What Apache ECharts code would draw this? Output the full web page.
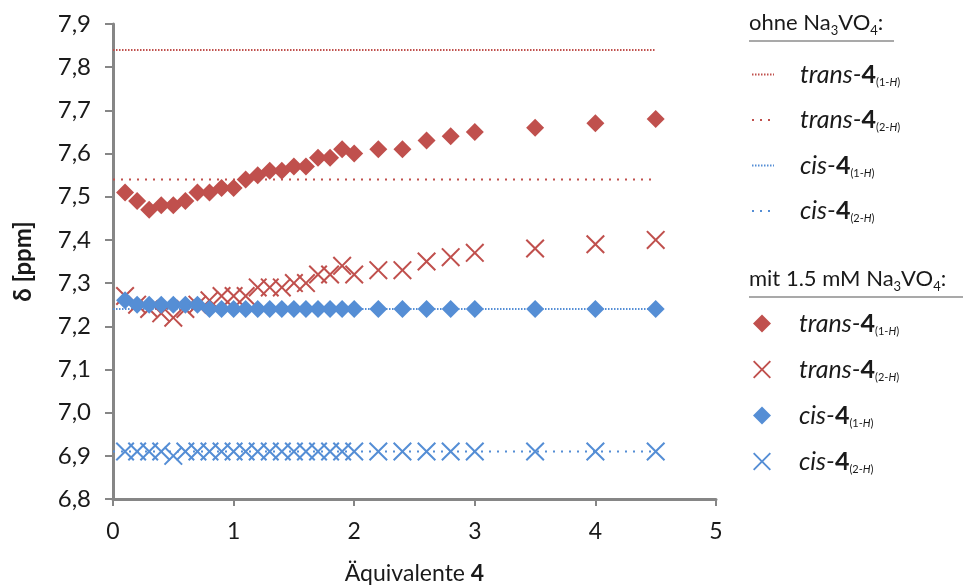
<!DOCTYPE html>
<html>
<head>
<meta charset="utf-8">
<script src="https://cdn.jsdelivr.net/npm/echarts@6/dist/echarts.min.js"></script>
<style>
html,body{margin:0;padding:0;background:#fff;}
#chart{width:967px;height:585px;}
</style>
</head>
<body>
<div id="chart"></div>
<script>
// ---- data ----
const xMit = [0.1,0.2,0.3,0.4,0.5,0.6,0.7,0.8,0.9,1.0,1.1,1.2,1.3,1.4,1.5,1.6,1.7,1.8,1.9,2.0,2.2,2.4,2.6,2.8,3.0,3.5,4.0,4.5];
const trans1H_mit = [7.51,7.49,7.47,7.48,7.48,7.49,7.51,7.51,7.52,7.52,7.54,7.55,7.56,7.56,7.57,7.57,7.59,7.59,7.61,7.60,7.61,7.61,7.63,7.64,7.65,7.66,7.67,7.68];
const trans2H_mit = [7.27,7.25,7.24,7.23,7.22,7.24,7.25,7.26,7.27,7.27,7.27,7.29,7.29,7.29,7.30,7.30,7.32,7.32,7.34,7.32,7.33,7.33,7.35,7.36,7.37,7.38,7.39,7.40];
const cis1H_mit = [7.26,7.25,7.25,7.25,7.25,7.25,7.25,7.24,7.24,7.24,7.24,7.24,7.24,7.24,7.24,7.24,7.24,7.24,7.24,7.24,7.24,7.24,7.24,7.24,7.24,7.24,7.24,7.24];
const cis2H_mit = [6.91,6.91,6.91,6.91,6.90,6.91,6.91,6.91,6.91,6.91,6.91,6.91,6.91,6.91,6.91,6.91,6.91,6.91,6.91,6.91,6.91,6.91,6.91,6.91,6.91,6.91,6.91,6.91];
const xOhne = [0, 4.5];
const trans1H_ohne = 7.84;
const trans2H_ohne = 7.54;
const cis1H_ohne = 7.24;
const cis2H_ohne = 6.91;
const xTicks = [0,1,2,3,4,5];
const yMin = 6.8, yMax = 7.9;

const RED = '#C0504D', BLUE = '#558ED5';
const FONT = 'Lato';
const TXT = '#1a1a1a';
const crossPath = 'path://M1.5,0 L10,8.5 L18.5,0 L20,1.5 L11.5,10 L20,18.5 L18.5,20 L10,11.5 L1.5,20 L0,18.5 L8.5,10 L0,1.5 Z';

const pairs = (xs, ys) => xs.map((x, i) => [x, ys[i]]);
const flat = (xs, v) => xs.map(x => [x, v]);

const labelMap = {
  o_t1: ['trans-', '1-'], o_t2: ['trans-', '2-'], o_c1: ['cis-', '1-'], o_c2: ['cis-', '2-'],
  m_t1: ['trans-', '1-'], m_t2: ['trans-', '2-'], m_c1: ['cis-', '1-'], m_c2: ['cis-', '2-']
};
const legendRich = {
  i: {fontFamily: FONT, fontStyle: 'italic', fontSize: 25, lineHeight: 26, color: TXT},
  b: {fontFamily: FONT, fontWeight: 'bold', fontSize: 25, lineHeight: 26, color: TXT},
  s: {fontFamily: FONT, fontSize: 11, lineHeight: 9, verticalAlign: 'bottom', color: TXT},
  si: {fontFamily: FONT, fontSize: 11, fontStyle: 'italic', lineHeight: 9, verticalAlign: 'bottom', color: TXT}
};
const fmt = name => {
  const [a, n] = labelMap[name];
  return '{i|' + a + '}{b|4}{s|(' + n + '}{si|H}{s|)}';
};

const lineSeries = (name, ys, color, dash) => ({
  name, type: 'line', data: flat(xOhne, ys), symbol: 'none', symbolSize: 0, showSymbol: false, silent: true,
  lineStyle: {color, width: 2, type: dash}, itemStyle: {color}, z: 1
});
const scatterSeries = (name, ys, color, symbol, size) => ({
  name, type: 'scatter', data: pairs(xMit, ys), symbol, symbolSize: size,
  itemStyle: {color, opacity: 1}, z: 2
});

const chart = echarts.init(document.getElementById('chart'), null, {renderer: 'canvas'});
chart.setOption({
  animation: false,
  backgroundColor: '#fff',
  grid: {left: 113, right: 251, top: 24, bottom: 86, containLabel: false, outerBoundsMode: 'none'},
  xAxis: {
    type: 'value', min: 0, max: 5, interval: 1,
    name: '{n|Äquivalente }{b|4}', nameLocation: 'middle', nameGap: 63,
    nameTextStyle: {rich: {
      n: {fontFamily: FONT, fontSize: 23, color: TXT},
      b: {fontFamily: FONT, fontSize: 23, fontWeight: 'bold', color: TXT}
    }},
    axisLine: {onZero: false, lineStyle: {color: '#868686', width: 3}},
    axisTick: {show: true, length: 7, lineStyle: {color: '#868686', width: 2}},
    axisLabel: {fontFamily: FONT, fontSize: 23, color: TXT, margin: 21,
      formatter: v => xTicks.includes(v) ? String(v) : ''},
    splitLine: {show: false}
  },
  yAxis: {
    type: 'value', min: yMin, max: yMax, interval: 0.1,
    name: 'δ [ppm]', nameLocation: 'middle', nameGap: 78, nameRotate: 90,
    nameTextStyle: {fontFamily: FONT, fontSize: 24, fontWeight: 'bold', color: TXT},
    axisLine: {onZero: false, lineStyle: {color: '#868686', width: 3}},
    axisTick: {show: true, length: 8, lineStyle: {color: '#868686', width: 2}},
    axisLabel: {fontFamily: FONT, fontSize: 24, color: TXT, margin: 22,
      formatter: v => v.toFixed(1).replace('.', ',')},
    splitLine: {show: false}
  },
  legend: [
    {
      data: ['o_t1', 'o_t2', 'o_c1', 'o_c2'], orient: 'vertical', left: 751, top: 62,
      padding: 0, itemGap: 20, itemWidth: 22, itemHeight: 18, selectedMode: false,
      itemStyle: {opacity: 0}, lineStyle: {width: 2},
      formatter: fmt, textStyle: {rich: legendRich, padding: [0, 0, 0, 21]}
    },
    {
      data: ['m_t1', 'm_t2', 'm_c1', 'm_c2'], orient: 'vertical', left: 753, top: 311,
      padding: 0, itemGap: 20.5, itemWidth: 18, itemHeight: 18, selectedMode: false,
      formatter: fmt, textStyle: {rich: legendRich, padding: [0, 0, 0, 23]}
    }
  ],
  graphic: [
    {type: 'text', left: 749, top: 12, style: {
      text: '{t|ohne Na}{s|3}{t|VO}{s|4}{t|:}',
      rich: {t: {fontFamily: FONT, fontSize: 22, lineHeight: 28, fill: TXT},
             s: {fontFamily: FONT, fontSize: 13, lineHeight: 10, verticalAlign: 'bottom', fill: TXT}}
    }},
    {type: 'line', shape: {x1: 749, y1: 41, x2: 894, y2: 41}, style: {stroke: '#8c8c8c', lineWidth: 1.5}},
    {type: 'text', left: 749, top: 268, style: {
      text: '{t|mit 1.5 mM Na}{s|3}{t|VO}{s|4}{t|:}',
      rich: {t: {fontFamily: FONT, fontSize: 22, lineHeight: 28, fill: TXT},
             s: {fontFamily: FONT, fontSize: 13, lineHeight: 10, verticalAlign: 'bottom', fill: TXT}}
    }},
    {type: 'line', shape: {x1: 749, y1: 297, x2: 963, y2: 297}, style: {stroke: '#8c8c8c', lineWidth: 1.5}}
  ],
  series: [
    lineSeries('o_t1', trans1H_ohne, RED, [1.5, 1.5]),
    lineSeries('o_t2', trans2H_ohne, RED, [2, 6]),
    lineSeries('o_c1', cis1H_ohne, BLUE, [1.5, 1.5]),
    lineSeries('o_c2', cis2H_ohne, BLUE, [2, 6]),
    scatterSeries('m_t1', trans1H_mit, RED, 'diamond', 18),
    scatterSeries('m_t2', trans2H_mit, RED, crossPath, 19),
    scatterSeries('m_c1', cis1H_mit, BLUE, 'diamond', 18),
    scatterSeries('m_c2', cis2H_mit, BLUE, crossPath, 19)
  ]
});
</script>
</body>
</html>
